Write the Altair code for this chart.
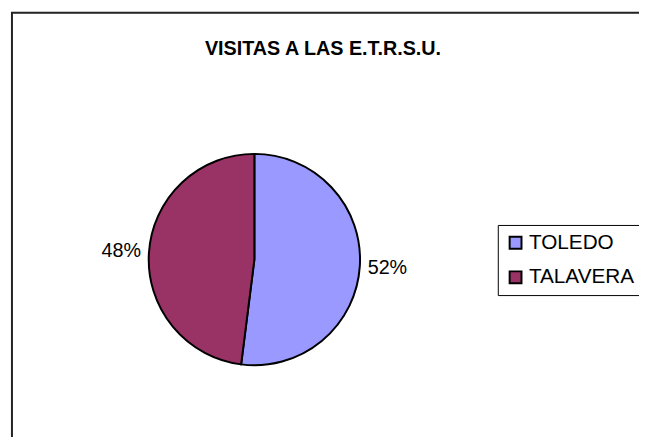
import altair as alt
import pandas as pd

categories = ["TOLEDO", "TALAVERA"]
values = [52, 48]
labels = ["52%", "48%"]
colors = ["#9999FF", "#993366"]
order_idx = [0, 1]
title_text = "VISITAS A LAS E.T.R.S.U."

FONT = "Liberation Sans"
W, H = 639, 429
cx, cy, r = 249.5, 252, 107

df = pd.DataFrame({"cat": categories, "val": values, "lab": labels, "ord": order_idx})
one = pd.DataFrame({"a": [0]})

frame = alt.Chart(one).mark_rect(fillOpacity=0, stroke="#222222", strokeWidth=2).encode(
    x=alt.value(4), y=alt.value(2), x2=alt.value(W + 30), y2=alt.value(H + 30)
)

title = alt.Chart(one).mark_text(
    text=title_text, font=FONT, fontSize=20, fontWeight="bold", color="black",
    align="center", baseline="alphabetic"
).encode(x=alt.value(319), y=alt.value(45))

base = alt.Chart(df).encode(
    theta=alt.Theta("val:Q", stack=True),
    order=alt.Order("ord:Q"),
)

pie = base.mark_arc(radius=r, stroke="black", strokeWidth=2).encode(
    color=alt.Color(
        "cat:N",
        sort=categories,
        scale=alt.Scale(domain=categories, range=colors),
        legend=alt.Legend(
            orient="none", legendX=496, legendY=217, title=None,
            symbolType="square", symbolSize=144, symbolStrokeColor="black",
            symbolStrokeWidth=2, symbolOpacity=1,
            labelFont=FONT, labelFontSize=21, labelColor="black", labelOffset=3,
            padding=7.5, rowPadding=13, strokeColor="black", fillColor="white",
        ),
    ),
    x=alt.value(cx), y=alt.value(cy),
)

text = base.mark_text(radius=135, font=FONT, fontSize=20, color="black",
                      align="center", baseline="middle").encode(
    text="lab:N", x=alt.value(cx), y=alt.value(cy)
)

chart = alt.layer(frame, title, pie, text).properties(
    width=W, height=H, padding=0, autosize=alt.AutoSizeParams(type="none")
).configure_view(strokeWidth=0)

chart.save("out.html", embed_options={"renderer": "svg", "actions": False})
